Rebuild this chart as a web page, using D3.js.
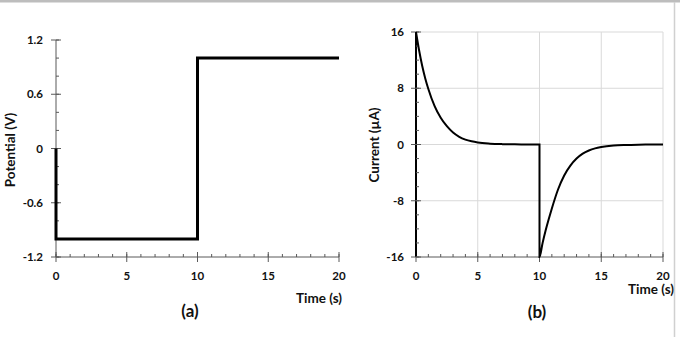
<!DOCTYPE html>
<html lang="en">
<head>
  <meta charset="UTF-8">
  <title>Potential step and current response</title>
  <style>
    body { margin: 0; background: #fff; }
    text { font-family: Lato, "Open Sans", sans-serif; font-weight: bold; fill: #111; }
  </style>
</head>
<body>
  <script src="https://d3js.org/d3.v7.min.js"></script>
  <div id="chart"></div>
  <script>
    // (a) applied potential step
    var potTime = [0, 0, 10, 10, 20];
    var potValue = [0, -1, -1, 1, 1];
    var potTicks = [-1.2, -0.6, 0, 0.6, 1.2];

    // (b) current response
    var curTime = [0, 0.25, 0.5, 0.75, 1, 1.5, 2, 2.5, 3, 3.5, 4, 4.5, 5, 6, 7, 8, 9, 10,
      10, 10.25, 10.5, 10.75, 11, 11.5, 12, 12.5, 13, 13.5, 14, 14.5, 15, 16, 17, 18, 19, 20];
    var curValue = [16, 13.4, 11.2, 9.4, 7.9, 5.5, 3.8, 2.6, 1.7, 1.1, 0.7, 0.45, 0.28, 0.12, 0.05, 0.02, 0.01, 0,
      -16, -14.0, -12.2, -10.6, -9.1, -6.4, -4.4, -3.0, -2.0, -1.3, -0.85, -0.55, -0.36, -0.15, -0.07, -0.03, -0.01, 0];
    var curTicks = [-16, -8, 0, 8, 16];

    var timeTicks = [0, 5, 10, 15, 20];

    var svg = d3.select("#chart").append("svg")
      .attr("width", 680).attr("height", 337);

    svg.append("rect").attr("width", 680).attr("height", 337).attr("fill", "#fff");
    // frame bits from the original figure
    svg.append("rect").attr("x", 0).attr("y", 0).attr("width", 680).attr("height", 2.5).attr("fill", "#bdbdbd");
    svg.append("line").attr("x1", 674.5).attr("x2", 674.5).attr("y1", 2).attr("y2", 337)
      .attr("stroke", "#d0d0d0").attr("stroke-width", 1.5);

    function drawAxes(g, x, y, opt) {
      // gridlines
      if (opt.grid) {
        g.selectAll(".vg").data(timeTicks.slice(1)).enter().append("line")
          .attr("x1", d => x(d)).attr("x2", d => x(d))
          .attr("y1", y.range()[1]).attr("y2", y.range()[0])
          .attr("stroke", "#d9d9d9").attr("stroke-width", 1);
        g.selectAll(".hg").data(opt.yTicks.slice(1)).enter().append("line")
          .attr("x1", x(0)).attr("x2", x(20))
          .attr("y1", d => y(d)).attr("y2", d => y(d))
          .attr("stroke", "#d9d9d9").attr("stroke-width", 1);
      }
      var y0 = y.range()[0];
      // x axis
      g.append("line").attr("x1", x(0)).attr("x2", x(20)).attr("y1", y0).attr("y2", y0)
        .attr("stroke", "#595959").attr("stroke-width", 1);
      g.selectAll(".xmin").data(d3.range(0, 21, 1)).enter().append("line")
        .attr("x1", d => x(d)).attr("x2", d => x(d))
        .attr("y1", y0).attr("y2", y0 - 3)
        .attr("stroke", "#595959");
      g.selectAll(".xmaj").data(timeTicks).enter().append("line")
        .attr("x1", d => x(d)).attr("x2", d => x(d))
        .attr("y1", y0 - 5).attr("y2", y0 + 5)
        .attr("stroke", "#595959");
      g.selectAll(".xlab").data(timeTicks).enter().append("text")
        .attr("x", d => x(d)).attr("y", 279.5)
        .attr("text-anchor", "middle").attr("font-size", 11.5)
        .text(d => d);

      // y axis
      var x0 = x(0);
      g.append("line").attr("x1", x0).attr("x2", x0).attr("y1", y.range()[1]).attr("y2", y0)
        .attr("stroke", opt.yAxisColor).attr("stroke-width", opt.yAxisWidth);
      g.selectAll(".ymin").data(opt.yMinor).enter().append("line")
        .attr("x1", x0).attr("x2", x0 + 3)
        .attr("y1", d => y(d)).attr("y2", d => y(d))
        .attr("stroke", "#595959");
      g.selectAll(".ymaj").data(opt.yTicks).enter().append("line")
        .attr("x1", x0 - 5).attr("x2", x0 + 5)
        .attr("y1", d => y(d)).attr("y2", d => y(d))
        .attr("stroke", "#595959");
      g.selectAll(".ylab").data(opt.yTicks).enter().append("text")
        .attr("x", opt.yLabelX).attr("y", d => y(d) + 4)
        .attr("text-anchor", "end").attr("font-size", 11.5)
        .text(d => d);
    }

    // ---- panel (a)
    var xa = d3.scaleLinear().domain([0, 20]).range([56, 339]);
    var ya = d3.scaleLinear().domain([-1.2, 1.2]).range([257, 40]);
    var ga = svg.append("g");
    drawAxes(ga, xa, ya, {
      grid: false, yTicks: potTicks,
      yMinor: d3.range(-12, 13, 2).map(d => d / 10),
      yAxisColor: "#595959", yAxisWidth: 1, yLabelX: 43
    });
    ga.append("path")
      .datum(potTime.map((t, i) => [t, potValue[i]]))
      .attr("d", d3.line().x(d => xa(d[0])).y(d => ya(d[1])))
      .attr("fill", "none").attr("stroke", "#000").attr("stroke-width", 3);
    ga.append("text").attr("transform", "translate(15,150) rotate(-90)")
      .attr("text-anchor", "middle").attr("font-size", 13.5).text("Potential (V)");
    ga.append("text").attr("x", 342).attr("y", 303)
      .attr("text-anchor", "end").attr("font-size", 13.5).text("Time (s)");
    ga.append("text").attr("x", 190).attr("y", 317)
      .attr("text-anchor", "middle").attr("font-size", 17).text("(a)");

    // ---- panel (b)
    var xb = d3.scaleLinear().domain([0, 20]).range([416, 663]);
    var yb = d3.scaleLinear().domain([-16, 16]).range([257, 32]);
    var gb = svg.append("g");
    drawAxes(gb, xb, yb, {
      grid: true, yTicks: curTicks,
      yMinor: d3.range(-16, 17, 2),
      yAxisColor: "#000", yAxisWidth: 2, yLabelX: 404
    });
    gb.append("path")
      .datum(curTime.map((t, i) => [t, curValue[i]]))
      .attr("d", d3.line().x(d => xb(d[0])).y(d => yb(d[1])).curve(d3.curveMonotoneX))
      .attr("fill", "none").attr("stroke", "#000").attr("stroke-width", 2);
    gb.append("text").attr("transform", "translate(379,145) rotate(-90)")
      .attr("text-anchor", "middle").attr("font-size", 13.5).text("Current (µA)");
    gb.append("text").attr("x", 674).attr("y", 294)
      .attr("text-anchor", "end").attr("font-size", 13.5).text("Time (s)");
    gb.append("text").attr("x", 537).attr("y", 318)
      .attr("text-anchor", "middle").attr("font-size", 17).text("(b)");
  </script>
</body>
</html>
